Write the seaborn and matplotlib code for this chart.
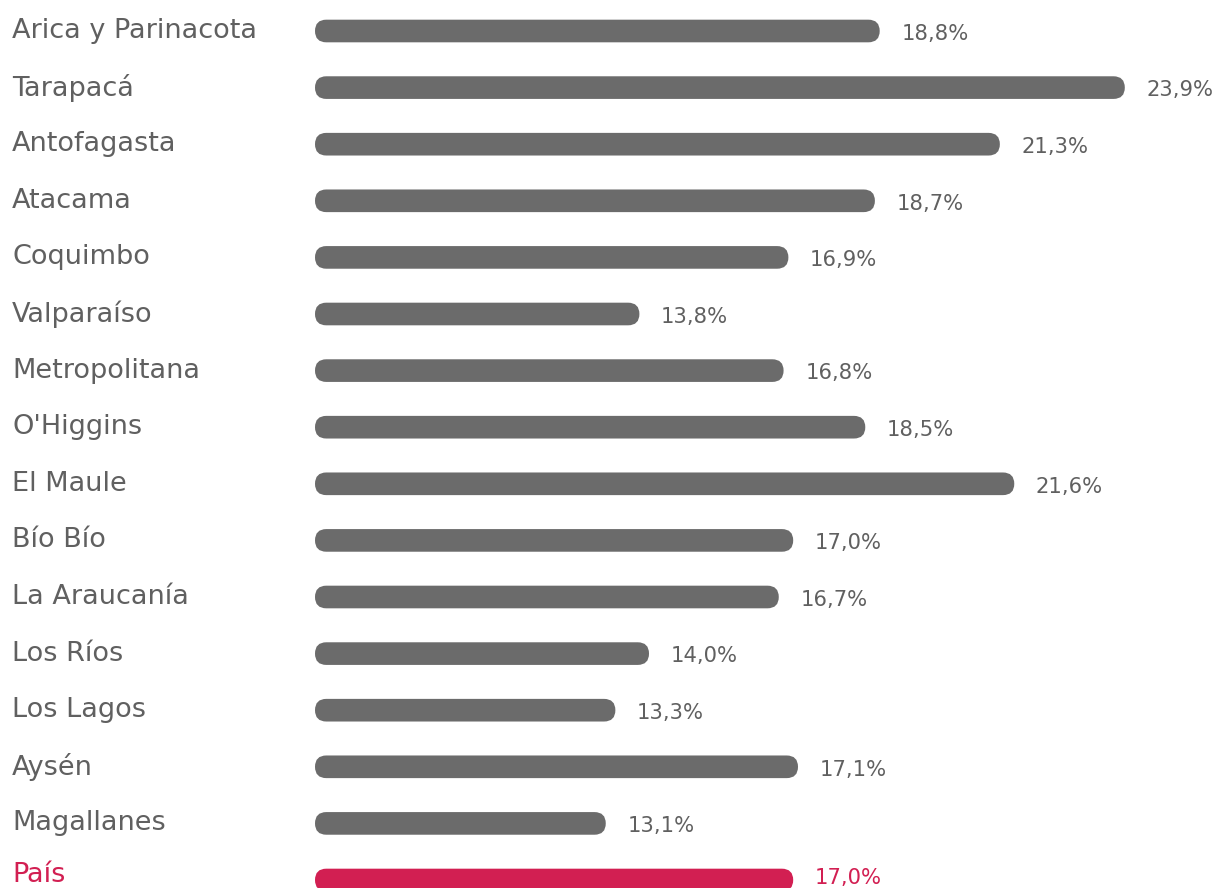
import numpy as np
import pandas as pd
import seaborn as sns
import matplotlib.pyplot as plt
from matplotlib.patches import FancyBboxPatch
from matplotlib.transforms import blended_transform_factory

regions = ['Arica y Parinacota', 'Tarapacá', 'Antofagasta', 'Atacama', 'Coquimbo',
           'Valparaíso', 'Metropolitana', "O'Higgins", 'El Maule', 'Bío Bío',
           'La Araucanía', 'Los Ríos', 'Los Lagos', 'Aysén', 'Magallanes', 'País']
values = [18.8, 23.9, 21.3, 18.7, 16.9, 13.8, 16.8, 18.5, 21.6, 17.0,
          16.7, 14.0, 13.3, 17.1, 13.1, 17.0]

grey_bar = '#6b6b6b'
grey_txt = '#606060'
pink = '#d21f52'

sns.set_theme(style='white')
plt.rcParams['font.family'] = ['DejaVu Sans']

df = pd.DataFrame({'region': regions, 'value': values})
colors = [pink if r == 'País' else grey_bar for r in regions]

fig = plt.figure(figsize=(12.19, 8.88), dpi=100)
ax = fig.add_axes([315 / 1219, -20.3 / 888, 1 - 315 / 1219, 905.6 / 888])

sns.barplot(data=df, y='region', x='value', hue='region', palette=colors,
            saturation=1, legend=False, orient='h', ax=ax, width=0.4)

x0 = 7.05
ax.set_xlim(x0, x0 + 904 / 48.06)
ax.set_ylim(15.5, -0.5)
ax.axis('off')

# swap square bars for rounded ones
fig.canvas.draw()
px_x = ax.transData.transform((1, 0))[0] - ax.transData.transform((0, 0))[0]
px_y = abs(ax.transData.transform((0, 1))[1] - ax.transData.transform((0, 0))[1])
for p in list(ax.patches):
    y, h, w = p.get_y(), p.get_height(), p.get_width()
    rad = h / 2 * px_y / px_x
    rb = FancyBboxPatch((x0, y), w - x0, h,
                        boxstyle=f'round,pad=0,rounding_size={rad}',
                        mutation_aspect=px_x / px_y,
                        facecolor=p.get_facecolor(), edgecolor='none')
    p.set_visible(False)
    ax.add_patch(rb)

trans = blended_transform_factory(fig.transFigure, ax.transData)
for i, (r, v) in enumerate(zip(regions, values)):
    c = pink if r == 'País' else grey_txt
    dy = -0.08 if r == 'País' else 0
    ax.text(12 / 1219, i + dy, r, transform=trans, ha='left', va='center',
            fontsize=19.5, color=c)
    ax.text(v + 0.45, i + 0.05 + dy, f'{v:.1f}%'.replace('.', ','), ha='left',
            va='center', fontsize=15.2, color=c)

fig.savefig('out.png', dpi=100)
